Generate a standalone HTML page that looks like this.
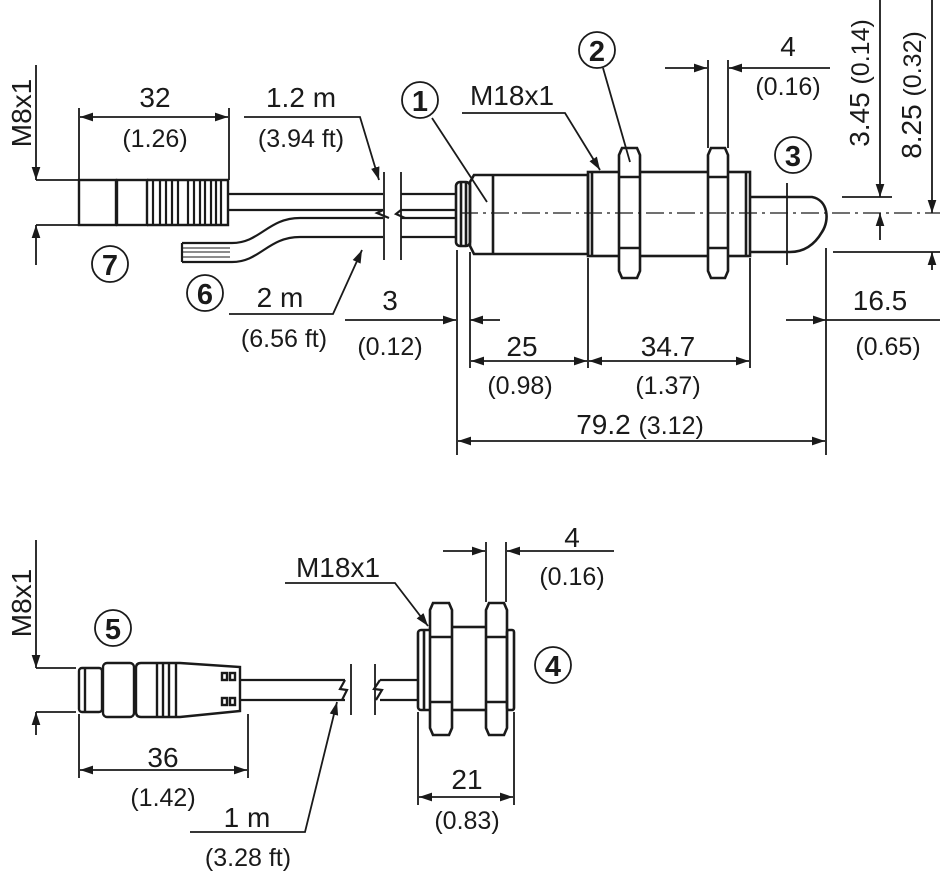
<!DOCTYPE html>
<html><head><meta charset="utf-8"><style>
html,body{margin:0;padding:0;background:#fff;}
svg{display:block;}
text{font-family:"Liberation Sans",sans-serif;fill:#1a1a1a;}
</style></head><body>
<svg width="940" height="876" viewBox="0 0 940 876" xmlns="http://www.w3.org/2000/svg">
<defs>
<marker id="a" viewBox="0 0 12 8" refX="12" refY="4" markerWidth="13" markerHeight="9" orient="auto-start-reverse" markerUnits="userSpaceOnUse"><path d="M0,0 L12,4 L0,8 z" fill="#1a1a1a"/></marker>
</defs>
<g stroke="#1a1a1a" stroke-width="1.8" fill="none">
<line x1="36" y1="65" x2="36" y2="180" marker-end="url(#a)"/>
<line x1="36" y1="265" x2="36" y2="225" marker-end="url(#a)"/>
<line x1="36" y1="180" x2="78" y2="180"/>
<line x1="36" y1="225" x2="78" y2="225"/>
<g stroke-width="2.4">
<rect x="79" y="180" width="37" height="45"/>
<rect x="117" y="180" width="30" height="45"/>
<path d="M147,180 H228 V225 H147"/>
</g>
<g stroke-width="2.2">
<line x1="153" y1="180" x2="153" y2="225"/><line x1="160" y1="180" x2="160" y2="225"/><line x1="166" y1="180" x2="166" y2="225"/><line x1="172" y1="180" x2="172" y2="225"/><line x1="178" y1="180" x2="178" y2="225"/><line x1="188" y1="180" x2="188" y2="225"/><line x1="194" y1="180" x2="194" y2="225"/><line x1="200" y1="180" x2="200" y2="225"/><line x1="205" y1="180" x2="205" y2="225"/><line x1="211" y1="180" x2="211" y2="225"/><line x1="216" y1="180" x2="216" y2="225"/><line x1="221" y1="180" x2="221" y2="225"/>
</g>
<line x1="79" y1="108" x2="79" y2="180"/>
<line x1="229" y1="108" x2="229" y2="180"/>
<line x1="80" y1="117" x2="228" y2="117" marker-start="url(#a)" marker-end="url(#a)"/>
<polyline points="244,117 360,117 379,180" marker-end="url(#a)"/>
<g stroke-width="2.2">
<line x1="229" y1="194" x2="383" y2="194"/>
<line x1="229" y1="210" x2="383" y2="210"/>
<polyline points="383,210 377,213 389,218"/>
<path d="M182,243 H232 C260,243 268,218 300,218 H383"/>
<path d="M182,262 H232 C260,262 268,237 300,237 H383"/>
<line x1="182" y1="243" x2="182" y2="262"/>
<line x1="182" y1="248" x2="230" y2="248" stroke-width="1"/><line x1="182" y1="252" x2="230" y2="252" stroke-width="1"/><line x1="182" y1="257" x2="230" y2="257" stroke-width="1"/>
<line x1="401" y1="194" x2="455" y2="194"/>
<line x1="401" y1="210" x2="455" y2="210"/>
<line x1="401" y1="218" x2="455" y2="218"/>
<line x1="401" y1="237" x2="455" y2="237"/>
<polyline points="401,210 396,214 405,218"/>
</g>
<line x1="384" y1="172" x2="384" y2="260"/>
<line x1="401" y1="172" x2="401" y2="260"/>
<polyline points="229,314 333,314 362,250" marker-end="url(#a)"/>
<line x1="345" y1="320" x2="456" y2="320" marker-end="url(#a)"/>
<line x1="500" y1="320" x2="470" y2="320" marker-end="url(#a)"/>
<g stroke-width="2.6">
<rect x="456" y="182" width="14" height="64" rx="4"/>
<line x1="461" y1="182" x2="461" y2="246"/>
<line x1="466" y1="182" x2="466" y2="246"/>
<path d="M474,175 H588 V254 H474 L470,246 V182 Z"/>
<line x1="493" y1="175" x2="493" y2="254"/>
<rect x="588" y="172" width="162" height="84"/>
<line x1="592" y1="172" x2="592" y2="256"/>
<line x1="746" y1="172" x2="746" y2="256"/>
<path d="M622,148 H637 L640,155 V271 L637,278 H622 L619,271 V155 Z" fill="#fff"/>
<line x1="619" y1="177" x2="640" y2="177"/><line x1="619" y1="248" x2="640" y2="248"/>
<path d="M711,148 H725 L728,155 V271 L725,278 H711 L708,271 V155 Z" fill="#fff"/>
<line x1="708" y1="177" x2="728" y2="177"/><line x1="708" y1="248" x2="728" y2="248"/>
<path d="M751,197 H812 C828,200 830,220 822,232 C815,244 805,252 790,252 H751"/>
</g>
<line x1="460" y1="213" x2="940" y2="213" stroke-width="1.3" stroke-dasharray="18,5,3,5"/>
<line x1="432" y1="118" x2="487" y2="202"/>
<polyline points="462,113 565,113 600,170" marker-end="url(#a)"/>
<line x1="603" y1="68" x2="630" y2="162"/>
<line x1="708" y1="60" x2="708" y2="148"/>
<line x1="728" y1="60" x2="728" y2="148"/>
<line x1="665" y1="68" x2="707" y2="68" marker-end="url(#a)"/>
<line x1="830" y1="68" x2="729" y2="68" marker-end="url(#a)"/>
<line x1="787" y1="183" x2="787" y2="265"/>
<line x1="880" y1="0" x2="880" y2="197" marker-end="url(#a)"/>
<line x1="880" y1="240" x2="880" y2="213" marker-end="url(#a)"/>
<line x1="842" y1="197" x2="892" y2="197"/>
<line x1="932" y1="0" x2="932" y2="213" marker-end="url(#a)"/>
<line x1="932" y1="270" x2="932" y2="252" marker-end="url(#a)"/>
<line x1="833" y1="252" x2="940" y2="252"/>
<line x1="786" y1="320" x2="826" y2="320" marker-end="url(#a)"/>
<line x1="826" y1="320" x2="940" y2="320"/>
<line x1="457" y1="250" x2="457" y2="455"/>
<line x1="470" y1="252" x2="470" y2="368"/>
<line x1="588" y1="258" x2="588" y2="368"/>
<line x1="750" y1="258" x2="750" y2="368"/>
<line x1="826" y1="248" x2="826" y2="455"/>
<line x1="471" y1="361" x2="587" y2="361" marker-start="url(#a)" marker-end="url(#a)"/>
<line x1="589" y1="361" x2="749" y2="361" marker-start="url(#a)" marker-end="url(#a)"/>
<line x1="458" y1="441" x2="825" y2="441" marker-start="url(#a)" marker-end="url(#a)"/>

<line x1="36" y1="540" x2="36" y2="668" marker-end="url(#a)"/>
<line x1="36" y1="735" x2="36" y2="712" marker-end="url(#a)"/>
<line x1="36" y1="668" x2="76" y2="668"/>
<line x1="36" y1="712" x2="76" y2="712"/>
<g stroke-width="2.4">
<rect x="79" y="668" width="23" height="44" rx="3"/>
<line x1="85" y1="668" x2="85" y2="712"/>
<rect x="103" y="663" width="31" height="54" rx="4"/>
<path d="M141,663 H180 L240,667 V711 L180,717 H141 Q136,717 136,712 V668 Q136,663 141,663 Z"/>
<line x1="157" y1="663" x2="157" y2="717"/><line x1="163" y1="663" x2="163" y2="717"/><line x1="169" y1="663" x2="169" y2="717"/><line x1="176" y1="663" x2="176" y2="717"/>
<rect x="222" y="673" width="5" height="7"/><rect x="230" y="673" width="5" height="7"/>
<rect x="222" y="698" width="5" height="7"/><rect x="230" y="698" width="5" height="7"/>
</g>
<g stroke-width="2.2">
<line x1="241" y1="680" x2="345" y2="680"/>
<line x1="241" y1="700" x2="345" y2="700"/>
<polyline points="345,680 340,689 347,690 342,700"/>
<line x1="380" y1="680" x2="418" y2="680"/>
<line x1="380" y1="700" x2="418" y2="700"/>
<polyline points="380,680 374,689 382,690 376,700"/>
</g>
<line x1="351" y1="664" x2="351" y2="715"/>
<line x1="375" y1="664" x2="375" y2="715"/>
<g stroke-width="2.6">
<rect x="418" y="630" width="14" height="80" rx="3"/>
<line x1="424" y1="630" x2="424" y2="710"/>
<rect x="450" y="627" width="38" height="83"/>
<path d="M433,603 H449 L452,610 V728 L449,735 H433 L430,728 V610 Z" fill="#fff"/>
<line x1="430" y1="637" x2="452" y2="637"/><line x1="430" y1="702" x2="452" y2="702"/>
<path d="M489,603 H504 L507,610 V728 L504,735 H489 L486,728 V610 Z" fill="#fff"/>
<line x1="486" y1="637" x2="507" y2="637"/><line x1="486" y1="702" x2="507" y2="702"/>
<rect x="507" y="630" width="7" height="80" rx="2"/>
</g>
<polyline points="285,583 395,583 428,626" marker-end="url(#a)"/>
<line x1="486" y1="542" x2="486" y2="602"/>
<line x1="506" y1="542" x2="506" y2="602"/>
<line x1="443" y1="551" x2="485" y2="551" marker-end="url(#a)"/>
<line x1="614" y1="551" x2="507" y2="551" marker-end="url(#a)"/>
<line x1="79" y1="714" x2="79" y2="778"/>
<line x1="248" y1="714" x2="248" y2="778"/>
<line x1="80" y1="770" x2="247" y2="770" marker-start="url(#a)" marker-end="url(#a)"/>
<polyline points="190,832 305,832 337,702" marker-end="url(#a)"/>
<line x1="418" y1="712" x2="418" y2="805"/>
<line x1="514" y1="712" x2="514" y2="805"/>
<line x1="419" y1="797" x2="513" y2="797" marker-start="url(#a)" marker-end="url(#a)"/>
<circle cx="420" cy="100" r="18"/>
<circle cx="597" cy="50" r="18"/>
<circle cx="793" cy="155" r="18"/>
<circle cx="110" cy="264" r="18"/>
<circle cx="205" cy="293" r="18"/>
<circle cx="113" cy="628" r="18"/>
<circle cx="553" cy="665" r="18"/>
</g>
<g font-size="28" text-anchor="middle">
<g font-size="29" font-weight="bold">
<text x="420" y="111">1</text>
<text x="597" y="61">2</text>
<text x="793" y="166">3</text>
<text x="110" y="275">7</text>
<text x="205" y="304">6</text>
<text x="113" y="639">5</text>
<text x="553" y="676">4</text>
</g>
<text x="155" y="107">32</text>
<text x="155" y="147" font-size="25">(1.26)</text>
<text x="301" y="107">1.2 m</text>
<text x="301" y="147" font-size="25">(3.94 ft)</text>
<text x="280" y="307">2 m</text>
<text x="284" y="347" font-size="25">(6.56 ft)</text>
<text x="390" y="310">3</text>
<text x="390" y="355" font-size="25">(0.12)</text>
<text x="512" y="105">M18x1</text>
<text x="788" y="56">4</text>
<text x="788" y="95" font-size="25">(0.16)</text>
<text x="880" y="310">16.5</text>
<text x="888" y="355" font-size="25">(0.65)</text>
<text x="522" y="356">25</text>
<text x="520" y="394" font-size="25">(0.98)</text>
<text x="668" y="356">34.7</text>
<text x="668" y="394" font-size="25">(1.37)</text>
<text x="640" y="434">79.2 <tspan font-size="25">(3.12)</tspan></text>
<text x="338" y="577">M18x1</text>
<text x="572" y="547">4</text>
<text x="572" y="585" font-size="25">(0.16)</text>
<text x="163" y="767">36</text>
<text x="163" y="806" font-size="25">(1.42)</text>
<text x="247" y="827">1 m</text>
<text x="248" y="866" font-size="25">(3.28 ft)</text>
<text x="467" y="789">21</text>
<text x="467" y="829" font-size="25">(0.83)</text>
<text transform="translate(31,113) rotate(-90)">M8x1</text>
<text transform="translate(31,603) rotate(-90)">M8x1</text>
<text transform="translate(869,83) rotate(-90)">3.45 <tspan font-size="25">(0.14)</tspan></text>
<text transform="translate(921,95) rotate(-90)">8.25 <tspan font-size="25">(0.32)</tspan></text>
</g>
</svg>
</body></html>
